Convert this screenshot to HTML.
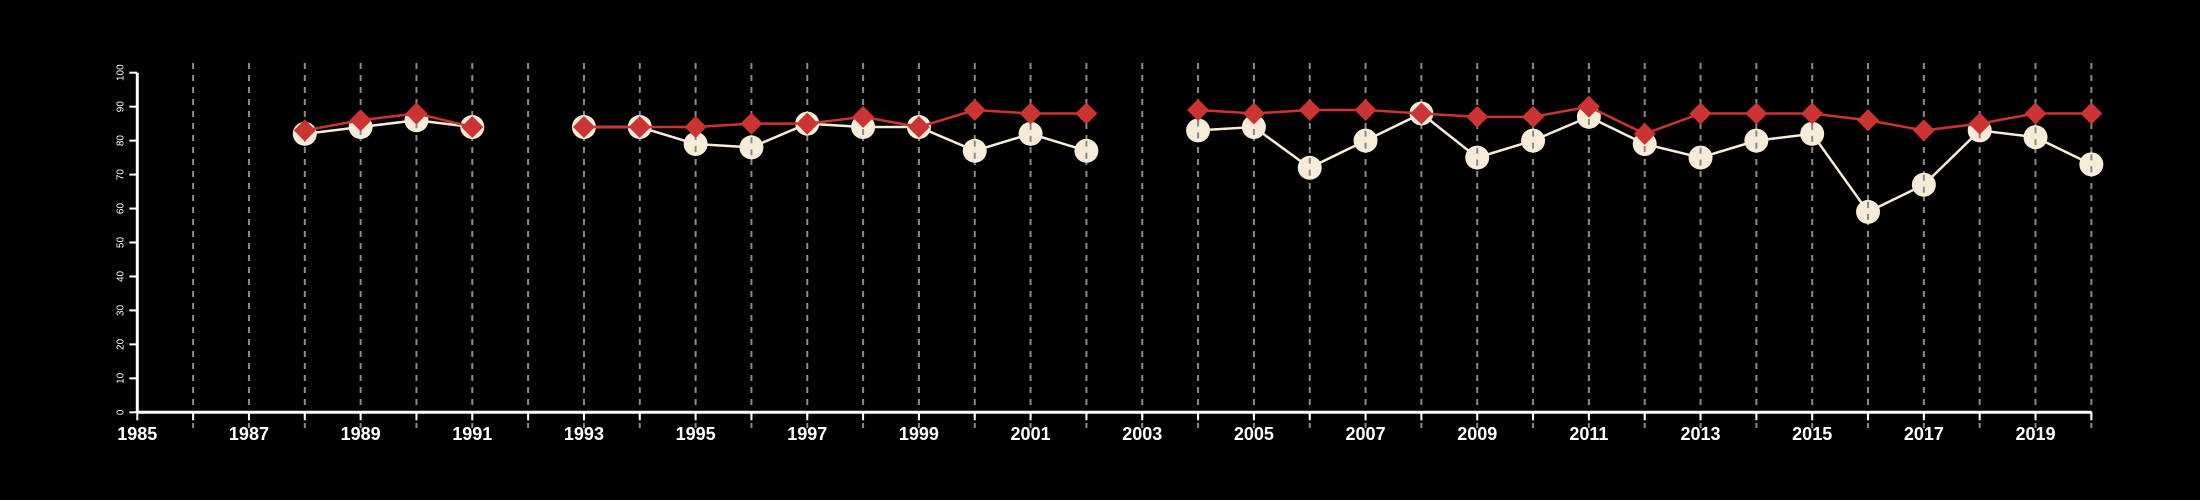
<!DOCTYPE html>
<html><head><meta charset="utf-8"><style>
html,body{margin:0;padding:0;background:#000;}
svg{display:block;font-family:"Liberation Sans",sans-serif;}
</style></head><body>
<svg id="chart" width="2200" height="500" viewBox="0 0 2200 500">
<rect width="2200" height="500" fill="#000"/>
<g id="grid"></g>
<g id="axes"></g>
<g id="series"></g>
</svg>
<script>
const years = [1988,1989,1990,1991,1993,1994,1995,1996,1997,1998,1999,2000,2001,2002,2004,2005,2006,2007,2008,2009,2010,2011,2012,2013,2014,2015,2016,2017,2018,2019,2020];
const seriesWhite = [82,84,86,84,84,84,79,78,85,84,84,77,82,77,83,84,72,80,88,75,80,87,79,75,80,82,59,67,83,81,73];
const seriesRed = [83,86,88,84,84,84,84,85,85,87,84,89,88,88,89,88,89,89,88,87,87,90,82,88,88,88,86,83,85,88,88];
const yTicks = [0,10,20,30,40,50,60,70,80,90,100];
const xTickLabels = [1985,1987,1989,1991,1993,1995,1997,1999,2001,2003,2005,2007,2009,2011,2013,2015,2017,2019];

const NS='http://www.w3.org/2000/svg';
const X0=137.3, XSTEP=55.83, Y0=412.3, YSCALE=3.396;
const xs = y => X0 + (y-1985)*XSTEP;
const ys = v => Y0 - v*YSCALE;
function mk(tag, attrs, parent){const e=document.createElementNS(NS,tag);for(const k in attrs)e.setAttribute(k,attrs[k]);parent.appendChild(e);return e;}
const grid=document.getElementById('grid'), axes=document.getElementById('axes'), ser=document.getElementById('series');

for(let y=1986;y<=2020;y++){
  const l=mk('line',{x1:xs(y),x2:xs(y),y1:63,y2:428,stroke:'#8a8a8a','stroke-width':2,'stroke-dasharray':'6,6'},grid);
  
  
}
const ya=mk('line',{x1:X0,x2:X0,y1:ys(100),y2:Y0,stroke:'#fff','stroke-width':3},axes);


const xa=mk('line',{x1:X0,x2:xs(2020),y1:Y0,y2:Y0,stroke:'#fff','stroke-width':3},axes);


yTicks.forEach(v=>{
  const t=mk('line',{x1:X0-8,x2:X0,y1:ys(v),y2:ys(v),stroke:'#fff','stroke-width':2},axes);
  
  
  const tx=mk('text',{x:0,y:0,transform:`translate(${X0-14},${ys(v)}) rotate(-90)`,fill:'#fff','font-size':10,'text-anchor':'middle'},axes);
  tx.textContent=v;
  
  
});
for(let y=1985;y<=2020;y++){
  const t=mk('line',{x1:xs(y),x2:xs(y),y1:Y0,y2:Y0+8,stroke:'#fff','stroke-width':2},axes);
  
  
}
xTickLabels.forEach(y=>{
  const tx=mk('text',{x:xs(y),y:440,fill:'#fff','font-size':18,'font-weight':'bold','text-anchor':'middle'},axes);
  tx.textContent=y;
  
  
});

function segments(vals){
  const segs=[];let cur=[];
  years.forEach((y,i)=>{
    if(i>0 && y-years[i-1]>1){segs.push(cur);cur=[];}
    cur.push([xs(y),ys(vals[i])]);
  });
  segs.push(cur);return segs;
}
segments(seriesWhite).forEach(s=>{
  const p=mk('polyline',{points:s.map(q=>q.join(',')).join(' '),fill:'none',stroke:'#f8ecd9','stroke-width':2.5},ser);
  
  
});
years.forEach((y,i)=>{
  const c=mk('circle',{cx:xs(y),cy:ys(seriesWhite[i]),r:12,fill:'#f8ecd9'},ser);
  
  
  mk('line',{x1:xs(y),x2:xs(y),y1:ys(seriesWhite[i])-10,y2:ys(seriesWhite[i])+10,stroke:'#8a8a8a','stroke-width':2,'stroke-dasharray':'6,6'},ser);
});
segments(seriesRed).forEach(s=>{
  const p=mk('polyline',{points:s.map(q=>q.join(',')).join(' '),fill:'none',stroke:'#cc3333','stroke-width':2.5},ser);
  
  
});
years.forEach((y,i)=>{
  const cx=xs(y), cy=ys(seriesRed[i]), h=11;
  const d=mk('polygon',{points:`${cx},${cy-h} ${cx+h},${cy} ${cx},${cy+h} ${cx-h},${cy}`,fill:'#cc3333'},ser);
  
  
});
</script>
</body></html>
